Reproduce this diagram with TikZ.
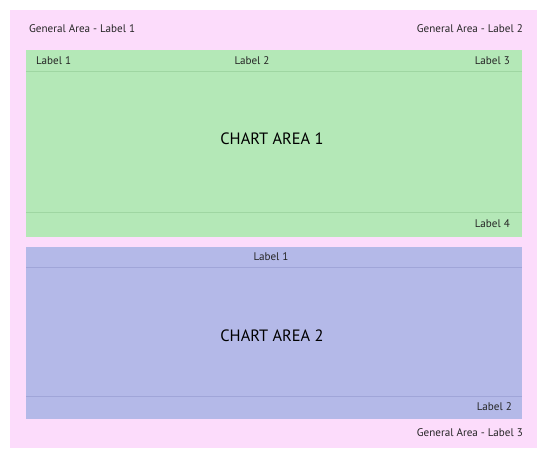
\documentclass[tikz,border=0pt]{standalone}
\usepackage{fontspec}
\setmainfont{PT Sans}
\definecolor{pinkbg}{HTML}{FCDCFB}
\definecolor{greenbg}{HTML}{B4E8B7}
\definecolor{greenln}{HTML}{9FD6A2}
\definecolor{bluebg}{HTML}{B4B9E8}
\definecolor{blueln}{HTML}{A0A5D8}
\definecolor{txt}{HTML}{262626}
\begin{document}
\begin{tikzpicture}[x=1pt,y=-1pt,
  lbl/.style={font=\fontsize{11.1}{13}\selectfont, text=txt, inner sep=0pt},
  big/.style={font=\fontsize{16.4}{19}\selectfont, text=black, inner sep=0pt}]
\useasboundingbox (0,0) rectangle (547,458);
\fill[white] (0,0) rectangle (547,458);
\fill[pinkbg] (10,10) rectangle (537,448);
% green area
\fill[greenbg] (26,50) rectangle (522,237);
\draw[greenln, line width=0.8pt] (26,71) -- (522,71);
\draw[greenln, line width=0.8pt] (26,212) -- (522,212);
% blue area
\fill[bluebg] (26,247) rectangle (522,419);
\draw[blueln, line width=0.8pt] (26,267) -- (522,267);
\draw[blueln, line width=0.8pt] (26,396) -- (522,396);
% texts
\node[lbl, anchor=west] (g1) at (29,29) {General Area - Label 1};
\node[lbl, anchor=east] (g2) at (523,29) {General Area - Label 2};
\node[lbl, anchor=east] (g3) at (523,433) {General Area - Label 3};
\node[lbl, anchor=west] (a1l1) at (36,61) {Label 1};
\node[lbl] (a1l2) at (252,61) {Label 2};
\node[lbl, anchor=east] (a1l3) at (510,61) {Label 3};
\node[lbl, anchor=east] (a1l4) at (510,224) {Label 4};
\node[big] (c1) at (272,139) {CHART AREA 1};
\node[lbl] (a2l1) at (271,257) {Label 1};
\node[lbl, anchor=east] (a2l2) at (512,407) {Label 2};
\node[big] (c2) at (272,336) {CHART AREA 2};
\end{tikzpicture}
\end{document}
